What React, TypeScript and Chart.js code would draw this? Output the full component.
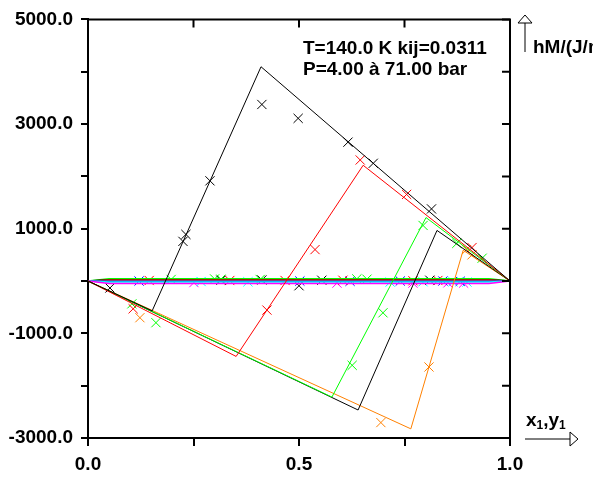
import React, { useEffect, useRef } from "react";
import { Chart, registerables } from "chart.js";

Chart.register(...registerables);

// ---- Axis ticks ----
const xLabeledTicks = [0, 0.5, 1];
const yLabeledTicks = [-3000, -1000, 1000, 3000, 5000];

// ---- Model curves (liquid branch, two-phase tie, vapour branch) ----
const blackAx = [0, 0.152, 0.41, 1];
const blackAy = [0, -570, 4095, 0];
const redLx = [0, 0.351, 0.652, 1];
const redLy = [0, -1441, 2212, 0];
const greenLx = [0, 0.578, 0.801, 1];
const greenLy = [0, -2218, 1213, 0];
const blackBx = [0, 0.64, 0.827, 1];
const blackBy = [0, -2465, 967, 0];
const orangeLx = [0, 0.765, 0.889, 1];
const orangeLy = [0, -2825, 588, 0];

// ---- Near-zero curves ----
const flatX = [0, 0.05, 0.95, 1];
const flatGreenY = [0, 45, 45, 0];
const flatBlackY = [0, 25, 25, 0];
const flatRedY = [0, 15, 15, 0];
const flatOrangeY = [0, 8, 8, 0];
const flatBlueY = [0, -5, -5, 0];
const flatCyanY = [0, -20, -20, 0];
const flatMagentaY = [0, -45, -45, 0];

// ---- Experimental points ----
const blackMx = [0.052, 0.225, 0.232, 0.289, 0.412, 0.498, 0.616, 0.676, 0.814, 0.5, 0.315, 0.412, 0.554, 0.81];
const blackMy = [-133, 758, 891, 1915, 3374, 3109, 2654, 2250, 1378, -90, 15, 20, 15, 15];
const redMx = [0.107, 0.424, 0.538, 0.645, 0.755, 0.91, 0.145, 0.336, 0.467, 0.604, 0.77, 0.829];
const redMy = [-531, -555, 601, 2313, 1655, 640, 10, 10, 10, 15, 5, 10];
const greenMx = [0.104, 0.161, 0.626, 0.699, 0.794, 0.874, 0.934, 0.197, 0.3, 0.315, 0.408, 0.637, 0.661];
const greenMy = [-436, -796, -1611, -607, 1062, 720, 436, 30, 40, 35, 30, 40, 35];
const orangeMx = [0.123, 0.694, 0.808, 0.897, 0.91];
const orangeMy = [-701, -2705, -1643, 600, 500];
const blueMx = [0.121, 0.502, 0.621, 0.74, 0.841, 0.882];
const blueMy = [0, 0, -5, 0, 0, -5];
const cyanMx = [0.268, 0.379, 0.716, 0.794, 0.865, 0.898];
const cyanMy = [-10, -15, -20, -15, -15, -20];
const magentaMx = [0.251, 0.59, 0.77, 0.853, 0.89];
const magentaMy = [-30, -40, -40, -35, -40];

const BLACK = "#000000";
const RED = "#ff0000";
const GREEN = "#00ff00";
const ORANGE = "#ff8000";
const BLUE = "#0000ff";
const CYAN = "#00ffff";
const MAGENTA = "#ff00ff";

const FONT = "'Liberation Sans', Arial, sans-serif";

const pts = (xs: number[], ys: number[]) => xs.map((x, i) => ({ x, y: ys[i] }));

const lineDs = (xs: number[], ys: number[], color: string, w = 1) => ({
  data: pts(xs, ys),
  showLine: true,
  borderColor: color,
  borderWidth: w,
  pointRadius: 0,
  fill: false,
  tension: 0,
});

const markDs = (xs: number[], ys: number[], color: string) => ({
  data: pts(xs, ys),
  showLine: false,
  borderColor: color,
  backgroundColor: color,
  pointStyle: "crossRot",
  pointRadius: 6.5,
  pointBorderWidth: 1,
});

const framePlugin = {
  id: "frameAndLabels",
  afterDraw(chart: any) {
    const { ctx, chartArea: a, scales } = chart;
    const x = scales.x;
    const y = scales.y;
    ctx.save();
    ctx.strokeStyle = "#000";
    ctx.lineWidth = 2;
    ctx.beginPath();
    ctx.moveTo(a.left, a.top);
    ctx.lineTo(a.right, a.top);
    ctx.lineTo(a.right, a.bottom);
    ctx.stroke();
    ctx.lineWidth = 2;
    ctx.beginPath();
    for (const t of x.ticks) {
      const px = x.getPixelForValue(t.value);
      ctx.moveTo(px, a.top);
      ctx.lineTo(px, a.top + 8);
    }
    for (const t of y.ticks) {
      const py = y.getPixelForValue(t.value);
      ctx.moveTo(a.right - 8, py);
      ctx.lineTo(a.right, py);
    }
    ctx.stroke();

    // annotation
    ctx.fillStyle = "#000";
    ctx.font = `bold 19px ${FONT}`;
    ctx.textBaseline = "alphabetic";
    ctx.textAlign = "left";
    ctx.fillText("T=140.0 K kij=0.0311", a.left + 215, 54);
    ctx.fillText("P=4.00 à 71.00 bar", a.left + 215, 75);

    // y axis title with arrow
    const ax = a.right + 15;
    ctx.lineWidth = 1;
    ctx.beginPath();
    ctx.moveTo(ax, 52);
    ctx.lineTo(ax, 23);
    ctx.stroke();
    ctx.beginPath();
    ctx.moveTo(ax - 7, 23);
    ctx.lineTo(ax, 15);
    ctx.lineTo(ax + 7, 23);
    ctx.closePath();
    ctx.fillStyle = "#fff";
    ctx.fill();
    ctx.stroke();
    ctx.fillStyle = "#000";
    ctx.font = `bold 19px ${FONT}`;
    ctx.fillText("hM/(J/mol)", ax + 8, 53);

    // x axis title with arrow
    const ay = a.bottom + 1;
    const x0 = a.right + 15;
    ctx.beginPath();
    ctx.moveTo(x0, ay);
    ctx.lineTo(x0 + 45, ay);
    ctx.stroke();
    ctx.beginPath();
    ctx.moveTo(x0 + 45, ay - 7);
    ctx.lineTo(x0 + 53, ay);
    ctx.lineTo(x0 + 45, ay + 7);
    ctx.closePath();
    ctx.fillStyle = "#fff";
    ctx.fill();
    ctx.stroke();
    ctx.fillStyle = "#000";
    let tx = x0 + 1;
    const base = a.bottom - 12;
    const big = `bold 19px ${FONT}`;
    const small = `bold 12px ${FONT}`;
    const parts: [string, string, number][] = [
      ["x", big, 0],
      ["1", small, 3],
      [",", big, 0],
      ["y", big, 0],
      ["1", small, 3],
    ];
    for (const [s, f, dy] of parts) {
      ctx.font = f;
      ctx.fillText(s, tx, base + dy);
      tx += ctx.measureText(s).width;
    }
    ctx.restore();
  },
};

export default function App() {
  const ref = useRef<HTMLCanvasElement>(null);
  useEffect(() => {
    document.body.style.margin = "0";
    const canvas = ref.current!;
    const chart = new Chart(canvas, {
      type: "scatter",
      data: {
        datasets: [
          lineDs(blackAx, blackAy, BLACK),
          lineDs(redLx, redLy, RED),
          lineDs(greenLx, greenLy, GREEN),
          lineDs(blackBx, blackBy, BLACK),
          lineDs(orangeLx, orangeLy, ORANGE),
          lineDs(flatX, flatMagentaY, MAGENTA, 1.5),
          lineDs(flatX, flatCyanY, CYAN, 1.5),
          lineDs(flatX, flatBlueY, BLUE, 1.5),
          lineDs(flatX, flatOrangeY, ORANGE, 1.5),
          lineDs(flatX, flatRedY, RED, 1.5),
          lineDs(flatX, flatBlackY, BLACK, 1.5),
          lineDs(flatX, flatGreenY, GREEN, 1.5),
          markDs(blackMx, blackMy, BLACK),
          markDs(redMx, redMy, RED),
          markDs(greenMx, greenMy, GREEN),
          markDs(orangeMx, orangeMy, ORANGE),
          markDs(blueMx, blueMy, BLUE),
          markDs(cyanMx, cyanMy, CYAN),
          markDs(magentaMx, magentaMy, MAGENTA),
        ] as any,
      },
      options: {
        animation: false,
        responsive: false,
        devicePixelRatio: 1,
        layout: { padding: { top: 16, right: 83, left: 0, bottom: 0 } },
        plugins: { legend: { display: false }, tooltip: { enabled: false } },
        scales: {
          x: {
            type: "linear",
            min: 0,
            max: 1,
            afterFit: (s: any) => {
              s.height = 39;
            },
            ticks: {
              stepSize: 0.25,
              color: "#000",
              padding: 7,
              maxRotation: 0,
              font: { family: FONT, size: 19, weight: "bold" },
              callback: (v: any) =>
                xLabeledTicks.some((t) => Math.abs(t - v) < 1e-9) ? Number(v).toFixed(1) : "",
            },
            grid: { drawOnChartArea: false, drawTicks: true, tickLength: 8, color: "#000", lineWidth: 2 },
            border: { display: true, color: "#000", width: 2 },
          },
          y: {
            type: "linear",
            min: -3000,
            max: 5000,
            afterFit: (s: any) => {
              s.width = 88;
            },
            ticks: {
              stepSize: 1000,
              color: "#000",
              padding: 8,
              font: { family: FONT, size: 19, weight: "bold" },
              callback: (v: any) => (yLabeledTicks.includes(Number(v)) ? Number(v).toFixed(1) : ""),
            },
            grid: { drawOnChartArea: false, drawTicks: true, tickLength: 7, color: "#000", lineWidth: 2 },
            border: { display: true, color: "#000", width: 2 },
          },
        },
      },
      plugins: [framePlugin],
    });
    return () => chart.destroy();
  }, []);
  return (
    <div style={{ width: 593, height: 477, background: "#fff" }}>
      <canvas ref={ref} width={593} height={477} />
    </div>
  );
}
